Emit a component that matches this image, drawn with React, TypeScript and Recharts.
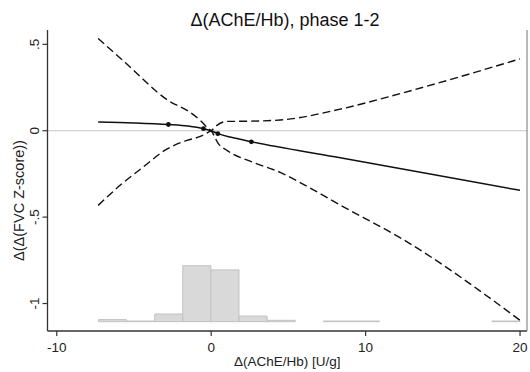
import React from 'react';
import { ComposedChart, Line, XAxis, YAxis, ReferenceLine, ReferenceArea, Label } from 'recharts';

// fitted spline (solid)
const fitX = [-7.32, -5.0, -2.77, -1.5, -0.5, 0, 0.43, 1.3, 2.6, 8.0, 14.0, 20.0];
const fitY = [0.05, 0.045, 0.036, 0.027, 0.012, 0.0, -0.017, -0.038, -0.064, -0.151, -0.248, -0.345];

// knot markers
const knotX = [-2.77, -0.5, 0.43, 2.6];
const knotY = [0.036, 0.012, -0.017, -0.064];

// confidence band: curve from upper-left to lower-right
const ciAX = [-7.32, -5.57, -2.78, -1.36, -0.71, -0.19, 0, 0.45, 1.02, 2.72, 4.47, 5.76, 8.35, 12.44, 20.0];
const ciAY = [0.534, 0.395, 0.175, 0.106, 0.06, 0.013, 0.0, -0.073, -0.114, -0.183, -0.241, -0.3, -0.43, -0.63, -1.097];

// confidence band: curve from lower-left to upper-right
const ciBX = [-7.32, -5.9, -4.4, -2.85, -1.57, -0.71, -0.17, 0, 0.37, 1.02, 2.31, 4.47, 8.35, 12.24, 20.0];
const ciBY = [-0.432, -0.316, -0.21, -0.105, -0.056, -0.033, -0.008, 0.0, 0.031, 0.054, 0.055, 0.062, 0.125, 0.215, 0.416];

// histogram of the exposure
const histEdges = [-7.3, -5.48, -3.66, -1.84, -0.02, 1.8, 3.62, 5.44, 7.26, 9.08, 10.9, 12.72, 14.54, 16.36, 18.18, 20.0];
const histCounts = [3, 1, 11, 80, 74, 8, 2, 0, 1, 1, 0, 0, 0, 0, 1];

const xTicks = [-10, 0, 10, 20];
const yTicks = [-1, -0.5, 0, 0.5];
const yTickLabels = ['-1', '-.5', '0', '.5'];

const titleText = 'Δ(AChE/Hb), phase 1-2';
const xTitle = 'Δ(AChE/Hb) [U/g]';
const yTitle = 'Δ(Δ(FVC Z-score))';

const toPts = (xs: number[], ys: number[]) => xs.map((x, i) => ({ x, y: ys[i] }));
const fitData = toPts(fitX, fitY);
const knotData = toPts(knotX, knotY);
const ciAData = toPts(ciAX, ciAY);
const ciBData = toPts(ciBX, ciBY);
const bins = histCounts.map((c, i) => ({ x1: histEdges[i], x2: histEdges[i + 1], c }));

const FONT = '"Liberation Sans", Arial, Helvetica, sans-serif';
const X_DOMAIN: [number, number] = [-10.6, 20.45];
const Y_DOMAIN: [number, number] = [-1.159, 0.583];

const YTick = (props: any) => {
  const { x, y, payload } = props;
  const idx = yTicks.indexOf(payload.value);
  const label = idx >= 0 ? yTickLabels[idx] : String(payload.value);
  return (
    <text x={x} y={y} transform={`rotate(-90 ${x} ${y})`} textAnchor="middle"
      fontSize={13.5} fill="#222" fontFamily={FONT}>{label}</text>
  );
};

const YTitle = (props: any) => {
  const vb = props.viewBox || { x: 0, y: 30, width: 47, height: 301 };
  const cx = 24;
  const cy = vb.y + vb.height / 2 + 20;
  return (
    <text x={cx} y={cy} transform={`rotate(-90 ${cx} ${cy})`} textAnchor="middle"
      fontSize={14.5} fill="#222" fontFamily={FONT}>{yTitle}</text>
  );
};

export default function App() {
  return (
    <div style={{ position: 'absolute', left: 0, top: 0, width: 530, height: 372, background: '#fff' }}>
      <div style={{ position: 'absolute', left: 85, top: 11, width: 400, textAlign: 'center', fontFamily: FONT,
        fontSize: 18, lineHeight: '18px', color: '#111', whiteSpace: 'nowrap' }}>{titleText}</div>
      <ComposedChart width={530} height={372} margin={{ top: 30, right: 0, bottom: 0, left: 0 }}>
        <XAxis xAxisId={0} type="number" dataKey="x" domain={X_DOMAIN} ticks={xTicks} allowDataOverflow
          height={41} tickSize={5} tickMargin={6} interval={0}
          axisLine={{ stroke: '#333', strokeWidth: 1.3 }} tickLine={{ stroke: '#333', strokeWidth: 1.2 }}
          tick={{ fontSize: 13.5, fill: '#222', fontFamily: FONT }}>
          <Label value={xTitle} position="insideBottom" offset={6} style={{ fontSize: 13.5, fill: '#222', fontFamily: FONT }} />
        </XAxis>
        <XAxis xAxisId="top" orientation="top" type="number" domain={X_DOMAIN} height={0} tick={false}
          tickLine={false} axisLine={{ stroke: '#8a8a8a', strokeWidth: 1.2 }} />
        <YAxis yAxisId={0} type="number" dataKey="y" domain={Y_DOMAIN} ticks={yTicks} allowDataOverflow
          width={47.5} tickSize={5} tickMargin={3.5} interval={0}
          axisLine={{ stroke: '#333', strokeWidth: 1.3 }} tickLine={{ stroke: '#333', strokeWidth: 1.2 }}
          tick={YTick}>
          <Label content={YTitle} />
        </YAxis>
        <YAxis yAxisId="right" orientation="right" type="number" domain={[0, 1]} width={3} tick={false}
          tickLine={false} axisLine={{ stroke: '#8a8a8a', strokeWidth: 1.2 }} />
        <YAxis yAxisId="hist" type="number" domain={[-13.3, 416.7]} hide allowDataOverflow />

        {bins.filter(b => b.c > 0).map((b, i) => (
          <ReferenceArea key={i} xAxisId={0} yAxisId="hist" x1={b.x1} x2={b.x2} y1={0} y2={b.c}
            fill="#d9d9d9" fillOpacity={1} stroke="#c2c2c2" strokeWidth={1} />
        ))}
        <ReferenceLine y={0} yAxisId={0} stroke="#c8c8c8" strokeWidth={1.2} />

        <Line data={ciAData} dataKey="y" type="monotoneX" stroke="#111" strokeWidth={1.4}
          strokeDasharray="8 4" dot={false} isAnimationActive={false} />
        <Line data={ciBData} dataKey="y" type="monotoneX" stroke="#111" strokeWidth={1.4}
          strokeDasharray="8 4" dot={false} isAnimationActive={false} />
        <Line data={fitData} dataKey="y" type="monotoneX" stroke="#111" strokeWidth={1.5}
          dot={false} isAnimationActive={false} />
        <Line data={knotData} dataKey="y" stroke="none" strokeWidth={0}
          dot={{ r: 2.4, fill: '#111', stroke: 'none' }} isAnimationActive={false} />
      </ComposedChart>
    </div>
  );
}
